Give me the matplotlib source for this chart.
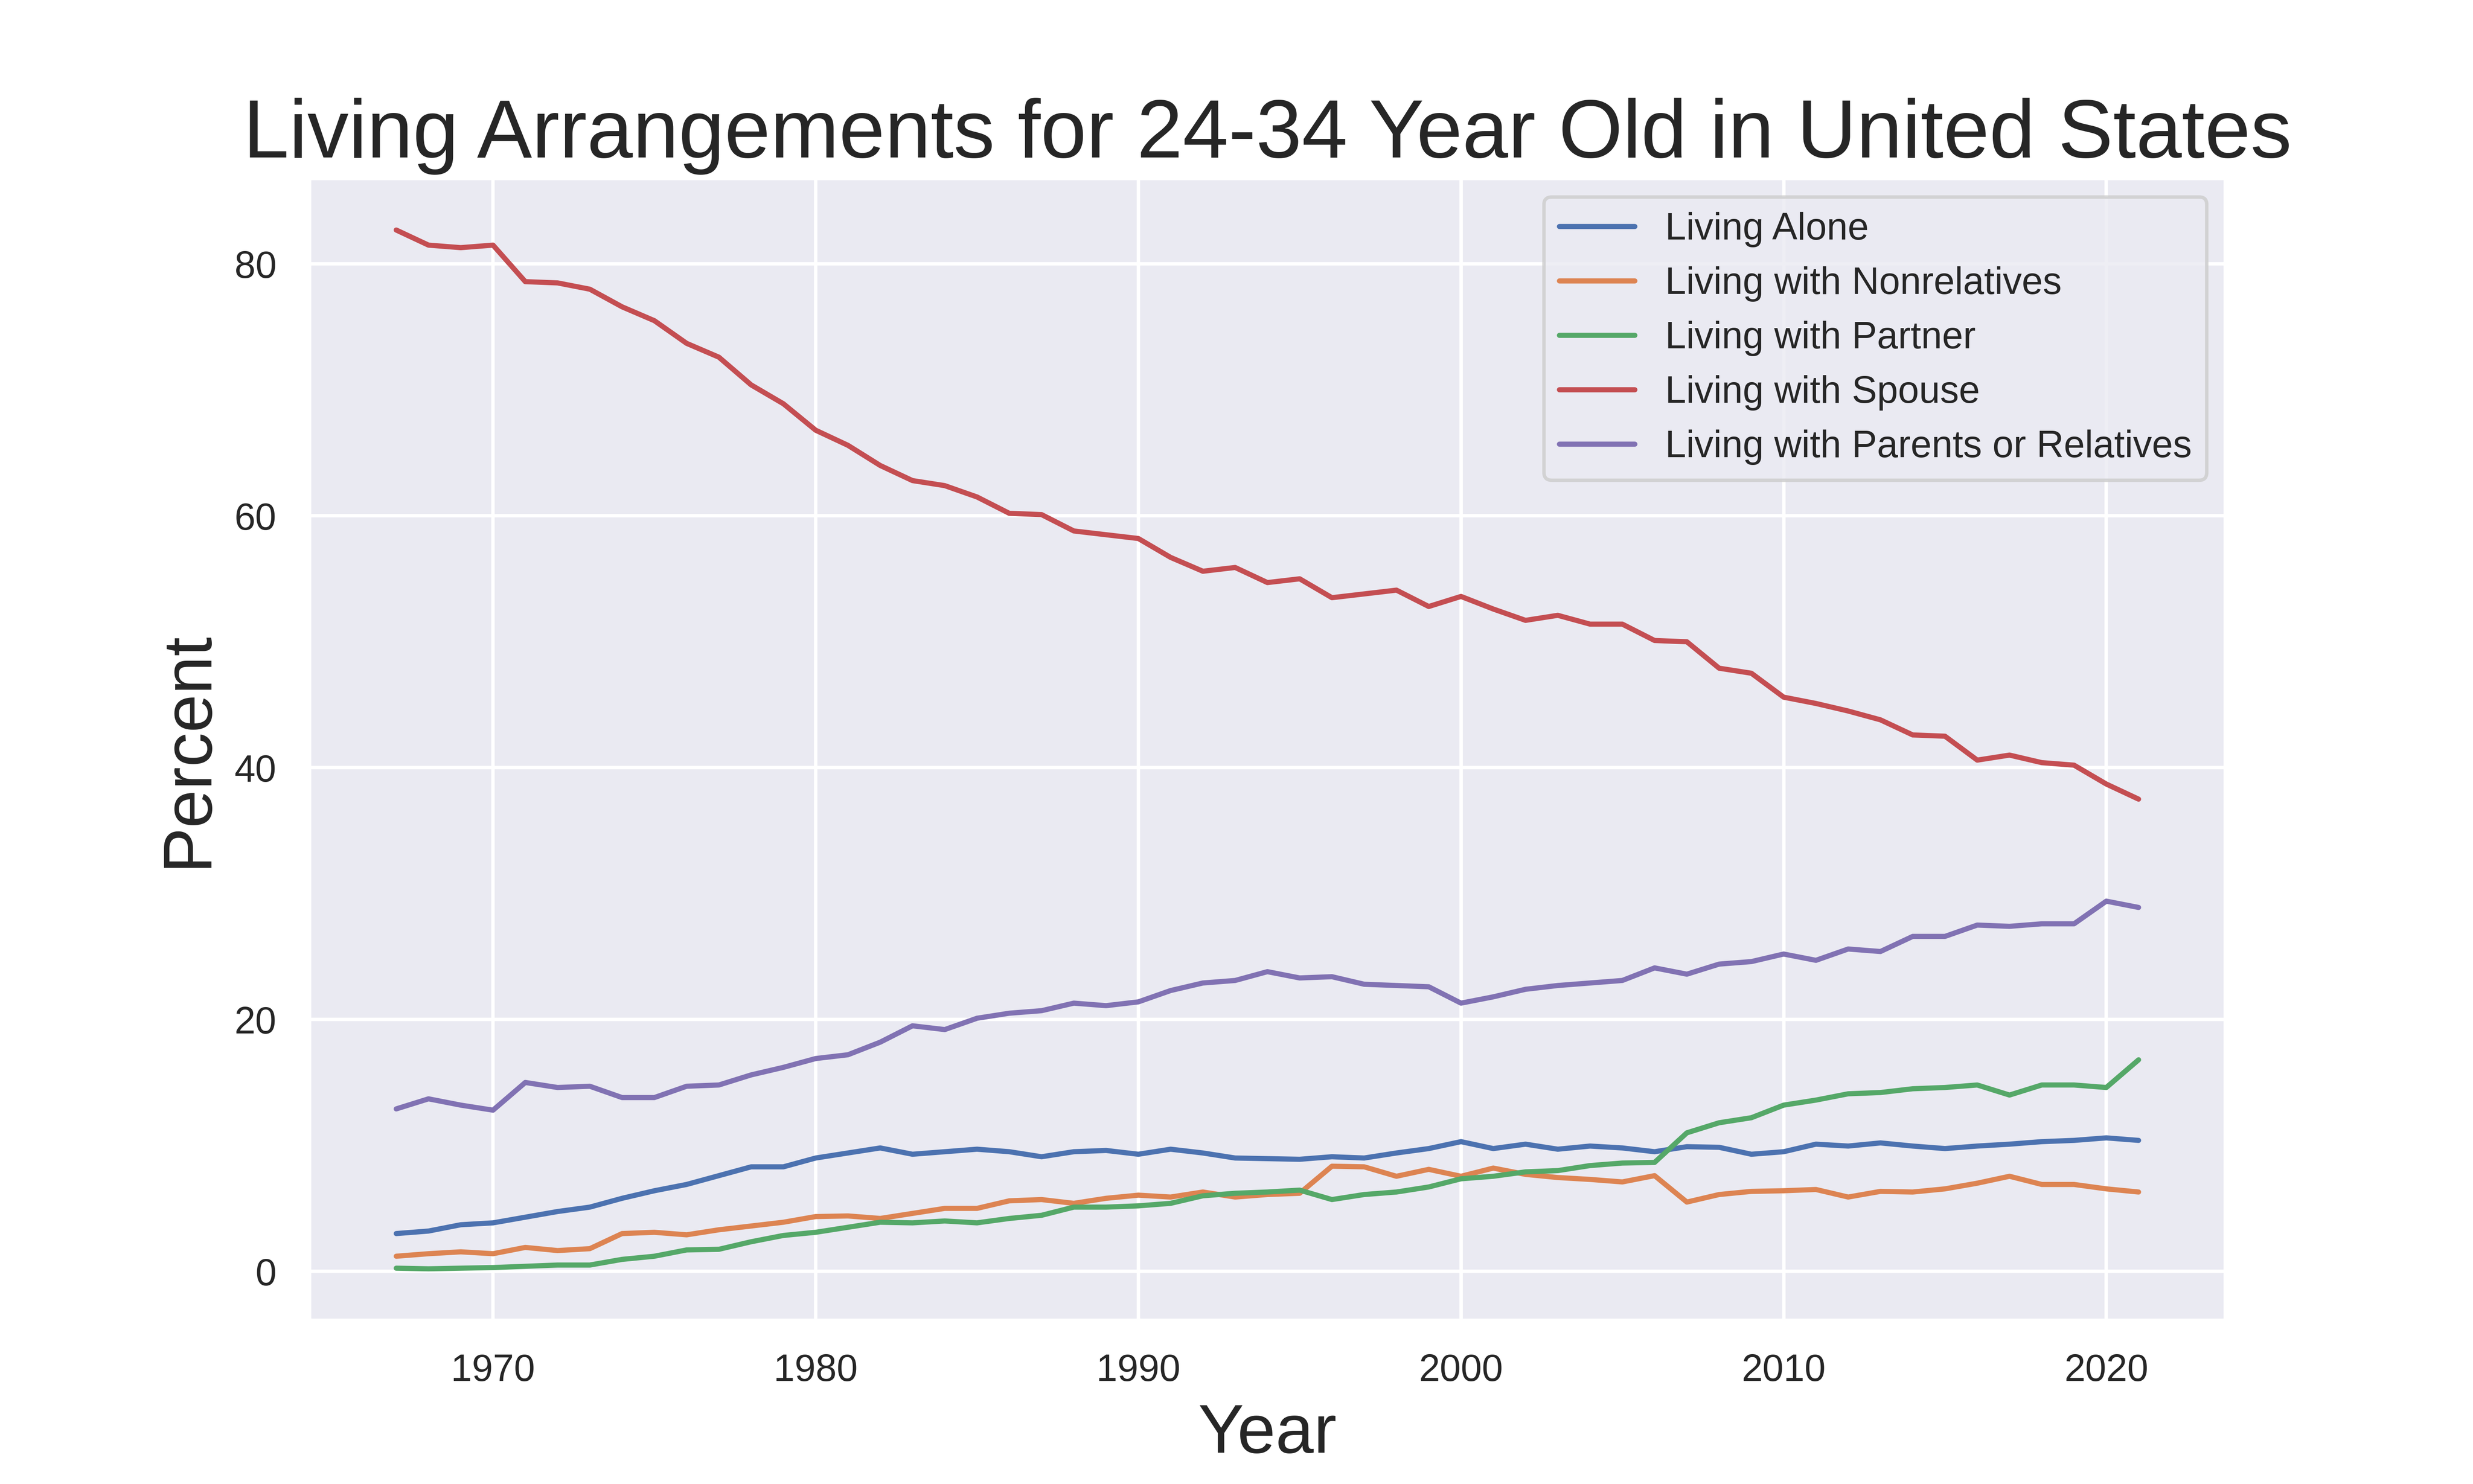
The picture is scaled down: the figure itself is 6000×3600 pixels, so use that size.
import numpy as np
import seaborn as sns
from matplotlib import pyplot as plt

years = list(range(1967, 2022))

alone = [3.0, 3.2, 3.7, 3.85, 4.3, 4.75, 5.1, 5.8, 6.4, 6.9,
         7.6, 8.3, 8.3, 9.0, 9.4, 9.8, 9.3, 9.5, 9.7, 9.5,
         9.1, 9.5, 9.6, 9.3, 9.7, 9.4, 9.0, 8.95, 8.9, 9.1,
         9.0, 9.4, 9.75, 10.3, 9.75, 10.1, 9.7, 9.95, 9.8, 9.5,
         9.9, 9.85, 9.3, 9.5, 10.1, 9.95, 10.2, 9.95, 9.75, 9.95,
         10.1, 10.3, 10.4, 10.6, 10.4]

nonrelatives = [1.2, 1.4, 1.55, 1.4, 1.9, 1.65, 1.8, 3.0, 3.1, 2.9,
                3.3, 3.6, 3.9, 4.35, 4.4, 4.2, 4.6, 5.0, 5.0, 5.6,
                5.7, 5.4, 5.8, 6.05, 5.9, 6.3, 5.9, 6.1, 6.2, 8.35,
                8.3, 7.55, 8.1, 7.55, 8.2, 7.7, 7.45, 7.3, 7.1, 7.6,
                5.5, 6.1, 6.35, 6.4, 6.5, 5.9, 6.35, 6.3, 6.55, 7.0,
                7.55, 6.9, 6.9, 6.55, 6.3]

partner = [0.25, 0.2, 0.25, 0.3, 0.4, 0.5, 0.5, 0.95, 1.2, 1.7,
           1.75, 2.35, 2.85, 3.1, 3.5, 3.9, 3.85, 4.0, 3.85, 4.2,
           4.45, 5.1, 5.1, 5.2, 5.4, 6.0, 6.2, 6.3, 6.45, 5.7,
           6.1, 6.3, 6.7, 7.35, 7.55, 7.9, 8.0, 8.4, 8.6, 8.65,
           11.0, 11.8, 12.2, 13.2, 13.6, 14.1, 14.2, 14.5, 14.6, 14.8,
           14.0, 14.8, 14.8, 14.6, 16.8]

spouse = [82.7, 81.5, 81.3, 81.5, 78.6, 78.5, 78.0, 76.6, 75.5, 73.7,
          72.6, 70.4, 68.9, 66.8, 65.6, 64.0, 62.8, 62.4, 61.5, 60.2,
          60.1, 58.8, 58.5, 58.2, 56.7, 55.6, 55.9, 54.7, 55.0, 53.5,
          53.8, 54.1, 52.8, 53.6, 52.6, 51.7, 52.1, 51.4, 51.4, 50.1,
          50.0, 47.9, 47.5, 45.6, 45.1, 44.5, 43.8, 42.6, 42.5, 40.6,
          41.0, 40.4, 40.2, 38.7, 37.5]

parents = [12.9, 13.7, 13.2, 12.8, 15.0, 14.6, 14.7, 13.8, 13.8, 14.7,
           14.8, 15.6, 16.2, 16.9, 17.2, 18.2, 19.5, 19.2, 20.1, 20.5,
           20.7, 21.3, 21.1, 21.4, 22.3, 22.9, 23.1, 23.8, 23.3, 23.4,
           22.8, 22.7, 22.6, 21.3, 21.8, 22.4, 22.7, 22.9, 23.1, 24.1,
           23.6, 24.4, 24.6, 25.2, 24.7, 25.6, 25.4, 26.6, 26.6, 27.5,
           27.4, 27.6, 27.6, 29.4, 28.9]

sns.set_theme(style="darkgrid")
plt.rcParams['font.family'] = ['Liberation Sans', 'DejaVu Sans']

fig, ax = plt.subplots(figsize=(10, 6), dpi=600)

ax.plot(years, alone, label='Living Alone')
ax.plot(years, nonrelatives, label='Living with Nonrelatives')
ax.plot(years, partner, label='Living with Partner')
ax.plot(years, spouse, label='Living with Spouse')
ax.plot(years, parents, label='Living with Parents or Relatives')

ax.set_title('Living Arrangements for 24-34 Year Old in United States', fontsize=24)
ax.set_xlabel('Year', fontsize=20)
ax.set_ylabel('Percent', fontsize=20)
ax.set_yticks([0, 20, 40, 60, 80])
ax.legend(loc='upper right')

plt.savefig('out.png')
